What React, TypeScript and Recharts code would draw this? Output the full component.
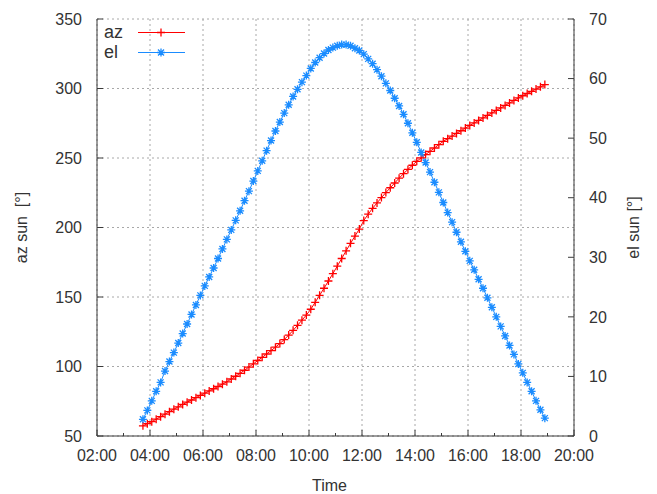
import React from 'react';
import { LineChart, Line, XAxis, YAxis, CartesianGrid, Legend } from 'recharts';

// sample times (10 min steps)
const TIMES = [
    '03:44', '03:54', '04:04', '04:14', '04:24', '04:34', '04:44', '04:54',
    '05:04', '05:14', '05:24', '05:34', '05:44', '05:54', '06:04', '06:14',
    '06:24', '06:34', '06:44', '06:54', '07:04', '07:14', '07:24', '07:34',
    '07:44', '07:54', '08:04', '08:14', '08:24', '08:34', '08:44', '08:54',
    '09:04', '09:14', '09:24', '09:34', '09:44', '09:54', '10:04', '10:14',
    '10:24', '10:34', '10:44', '10:54', '11:04', '11:14', '11:24', '11:34',
    '11:44', '11:54', '12:04', '12:14', '12:24', '12:34', '12:44', '12:54',
    '13:04', '13:14', '13:24', '13:34', '13:44', '13:54', '14:04', '14:14',
    '14:24', '14:34', '14:44', '14:54', '15:04', '15:14', '15:24', '15:34',
    '15:44', '15:54', '16:04', '16:14', '16:24', '16:34', '16:44', '16:54',
    '17:04', '17:14', '17:24', '17:34', '17:44', '17:54', '18:04', '18:14',
    '18:24', '18:34', '18:44', '18:54',
];

// sun azimuth [deg]
const AZ = [
    57.3, 58.9, 60.3, 62.1, 63.9, 65.7, 67.5, 69.3,
    71.0, 72.7, 74.3, 75.9, 77.6, 79.2, 80.8, 82.4,
    84.0, 85.6, 87.3, 89.0, 91.0, 93.0, 95.1, 97.3,
    99.6, 101.9, 104.3, 106.6, 109.0, 111.4, 113.9, 116.5,
    119.4, 122.6, 126.0, 129.6, 133.3, 137.0, 141.2, 146.2,
    151.2, 156.3, 161.5, 166.8, 172.2, 177.7, 183.2, 188.6,
    193.8, 198.9, 205.0, 209.6, 213.8, 217.7, 221.5, 225.1,
    228.6, 232.0, 235.5, 238.7, 241.8, 244.8, 247.6, 250.1,
    252.5, 254.8, 257.2, 259.6, 262.0, 263.9, 265.8, 267.7,
    269.6, 271.5, 273.4, 275.2, 277.0, 278.8, 280.6, 282.4,
    284.2, 286.0, 287.8, 289.6, 291.4, 293.2, 294.8, 296.4,
    298.0, 299.6, 301.2, 302.8,
];

// sun elevation [deg]
const EL = [
    2.8, 4.3, 5.9, 7.5, 9.0, 10.9, 12.5, 14.0,
    15.6, 17.2, 18.8, 20.4, 22.0, 23.6, 25.2, 26.7,
    28.2, 29.8, 31.4, 33.0, 34.6, 36.2, 37.8, 39.5,
    41.1, 42.8, 44.5, 46.2, 47.9, 49.6, 51.2, 52.7,
    54.2, 55.6, 57.0, 58.2, 59.4, 60.5, 61.7, 62.7,
    63.5, 64.2, 64.8, 65.2, 65.5, 65.7, 65.7, 65.5,
    65.1, 64.7, 64.1, 63.3, 62.5, 61.5, 60.4, 59.2,
    58.0, 56.7, 55.4, 54.0, 52.5, 50.9, 49.3, 47.6,
    45.9, 44.3, 42.6, 40.9, 39.2, 37.5, 35.9, 34.2,
    32.6, 31.0, 29.4, 27.9, 26.3, 24.8, 23.2, 21.6,
    20.0, 18.4, 16.8, 15.2, 13.7, 12.1, 10.6, 9.0,
    7.5, 5.9, 4.4, 3.0,
];

const HOUR_TICKS = [2, 3, 4, 5, 6, 7, 8, 9, 10, 11, 12, 13, 14, 15, 16, 17, 18, 19, 20];
const GRID_HOURS = [2, 4, 6, 8, 10, 12, 14, 16, 18, 20];
const AZ_TICKS = [50, 100, 150, 200, 250, 300, 350];
const EL_TICKS = [0, 10, 20, 30, 40, 50, 60, 70];

const RED = '#ff0000';
const BLUE = '#1a8cff';
const AXIS = '#3a3a3a';
const TEXT = '#333333';
const FONT = '"Liberation Sans", Arial, sans-serif';

const toHours = (s: string) => {
    const [h, m] = s.split(':').map(Number);
    return h + m / 60;
};

const data = TIMES.map((t, i) => ({ t: toHours(t), az: AZ[i], el: EL[i] }));

const fmtHour = (h: number) => `${String(h).padStart(2, '0')}:00`;

const PlusDot = (props: any) => {
    const { cx, cy } = props;
    if (cx == null || cy == null) return null;
    return (
        <path
            d={`M${cx - 4},${cy}h8M${cx},${cy - 4}v8`}
            stroke={RED}
            strokeWidth={1.3}
            fill="none"
        />
    );
};

const StarDot = (props: any) => {
    const { cx, cy } = props;
    if (cx == null || cy == null) return null;
    const r = 4;
    const d = 3;
    return (
        <path
            d={`M${cx - r},${cy}h${2 * r}M${cx},${cy - r}v${2 * r}M${cx - d},${cy - d}l${2 * d},${2 * d}M${cx - d},${cy + d}l${2 * d},${-2 * d}`}
            stroke={BLUE}
            strokeWidth={1.3}
            fill="none"
        />
    );
};

// gnuplot style: ticks point into the plot
const BottomTick = ({ x, y, payload }: any) => {
    const major = payload.value % 2 === 0;
    return (
        <g>
            <line x1={x} y1={y} x2={x} y2={y - (major ? 6 : 3)} stroke={AXIS} />
            {major && (
                <text x={x} y={y + 25} textAnchor="middle" fill={TEXT} fontSize={16} fontFamily={FONT}>
                    {fmtHour(payload.value)}
                </text>
            )}
        </g>
    );
};

const TopTick = ({ x, y, payload }: any) => {
    const major = payload.value % 2 === 0;
    return <line x1={x} y1={y} x2={x} y2={y + (major ? 6 : 3)} stroke={AXIS} />;
};

const LeftTick = ({ x, y, payload }: any) => (
    <g>
        <line x1={x} y1={y} x2={x + 6} y2={y} stroke={AXIS} />
        <text x={x - 15} y={y} dy="0.36em" textAnchor="end" fill={TEXT} fontSize={16} fontFamily={FONT}>
            {payload.value}
        </text>
    </g>
);

const RightTick = ({ x, y, payload }: any) => (
    <g>
        <line x1={x} y1={y} x2={x - 6} y2={y} stroke={AXIS} />
        <text x={x + 15} y={y} dy="0.36em" textAnchor="start" fill={TEXT} fontSize={16} fontFamily={FONT}>
            {payload.value}
        </text>
    </g>
);

const sideTitle = (text: string, xPos: number) => (props: any) => {
    const { viewBox } = props;
    const cy = viewBox.y + viewBox.height / 2;
    return (
        <text
            x={xPos}
            y={cy}
            transform={`rotate(-90, ${xPos}, ${cy})`}
            textAnchor="middle"
            dominantBaseline="central"
            fill={TEXT}
            fontSize={16}
            fontFamily={FONT}
            style={{ whiteSpace: 'pre' }}
        >
            {text}
        </text>
    );
};

const timeTitle = (props: any) => {
    const { viewBox } = props;
    const cx = viewBox.x + viewBox.width / 2 - 6;
    return (
        <text x={cx} y={491} textAnchor="middle" fill={TEXT} fontSize={16} fontFamily={FONT}>
            Time
        </text>
    );
};

const LegendBox = () => (
    <svg width={90} height={42} style={{ display: 'block' }}>
        <text x={0} y={16} fill={TEXT} fontSize={18} fontFamily={FONT}>az</text>
        <line x1={34} y1={10.5} x2={81} y2={10.5} stroke={RED} />
        <PlusDot cx={57} cy={10.5} />
        <text x={0} y={36} fill={TEXT} fontSize={18} fontFamily={FONT}>el</text>
        <line x1={34} y1={30.5} x2={81} y2={30.5} stroke={BLUE} />
        <StarDot cx={57} cy={30.5} />
    </svg>
);

const App: React.FC = () => (
    <div style={{ position: 'absolute', left: 0, top: 0, background: '#fff' }}>
        <LineChart
            width={657}
            height={494}
            data={data}
            margin={{ top: 19, right: 0, bottom: 0, left: 0 }}
            style={{ fontFamily: FONT }}
        >
            <CartesianGrid
                stroke="#a8a8a8"
                strokeDasharray="2 3"
                verticalValues={GRID_HOURS}
            />
            <XAxis
                dataKey="t"
                type="number"
                domain={[2, 20]}
                ticks={HOUR_TICKS}
                interval={0}
                height={58}
                tickSize={0}
                tickMargin={0}
                tick={<BottomTick />}
                axisLine={{ stroke: AXIS }}
                allowDataOverflow
                label={{ value: 'Time', content: timeTitle }}
            />
            <XAxis
                xAxisId="top"
                dataKey="t"
                type="number"
                orientation="top"
                domain={[2, 20]}
                ticks={HOUR_TICKS}
                interval={0}
                height={0}
                tickSize={0}
                tickMargin={0}
                tick={<TopTick />}
                axisLine={{ stroke: AXIS }}
                allowDataOverflow
            />
            <YAxis
                type="number"
                domain={[50, 350]}
                ticks={AZ_TICKS}
                interval={0}
                width={97}
                tickSize={0}
                tickMargin={0}
                tick={<LeftTick />}
                axisLine={{ stroke: AXIS }}
                allowDataOverflow
                label={{ value: 'az sun  [°]', content: sideTitle('az sun  [°]', 21) }}
            />
            <YAxis
                yAxisId="el"
                type="number"
                orientation="right"
                domain={[0, 70]}
                ticks={EL_TICKS}
                interval={0}
                width={83}
                tickSize={0}
                tickMargin={0}
                tick={<RightTick />}
                axisLine={{ stroke: AXIS }}
                allowDataOverflow
                label={{ value: 'el sun [°]', content: sideTitle('el sun [°]', 633) }}
            />
            <Legend
                layout="vertical"
                align="center"
                verticalAlign="middle"
                content={<LegendBox />}
                wrapperStyle={{ left: 104, top: 22, width: 90, height: 42 }}
            />
            <Line
                type="linear"
                dataKey="az"
                stroke={RED}
                strokeWidth={1}
                dot={<PlusDot />}
                activeDot={false}
                isAnimationActive={false}
            />
            <Line
                type="linear"
                dataKey="el"
                yAxisId="el"
                stroke={BLUE}
                strokeWidth={1}
                dot={<StarDot />}
                activeDot={false}
                isAnimationActive={false}
            />
        </LineChart>
    </div>
);

export default App;
